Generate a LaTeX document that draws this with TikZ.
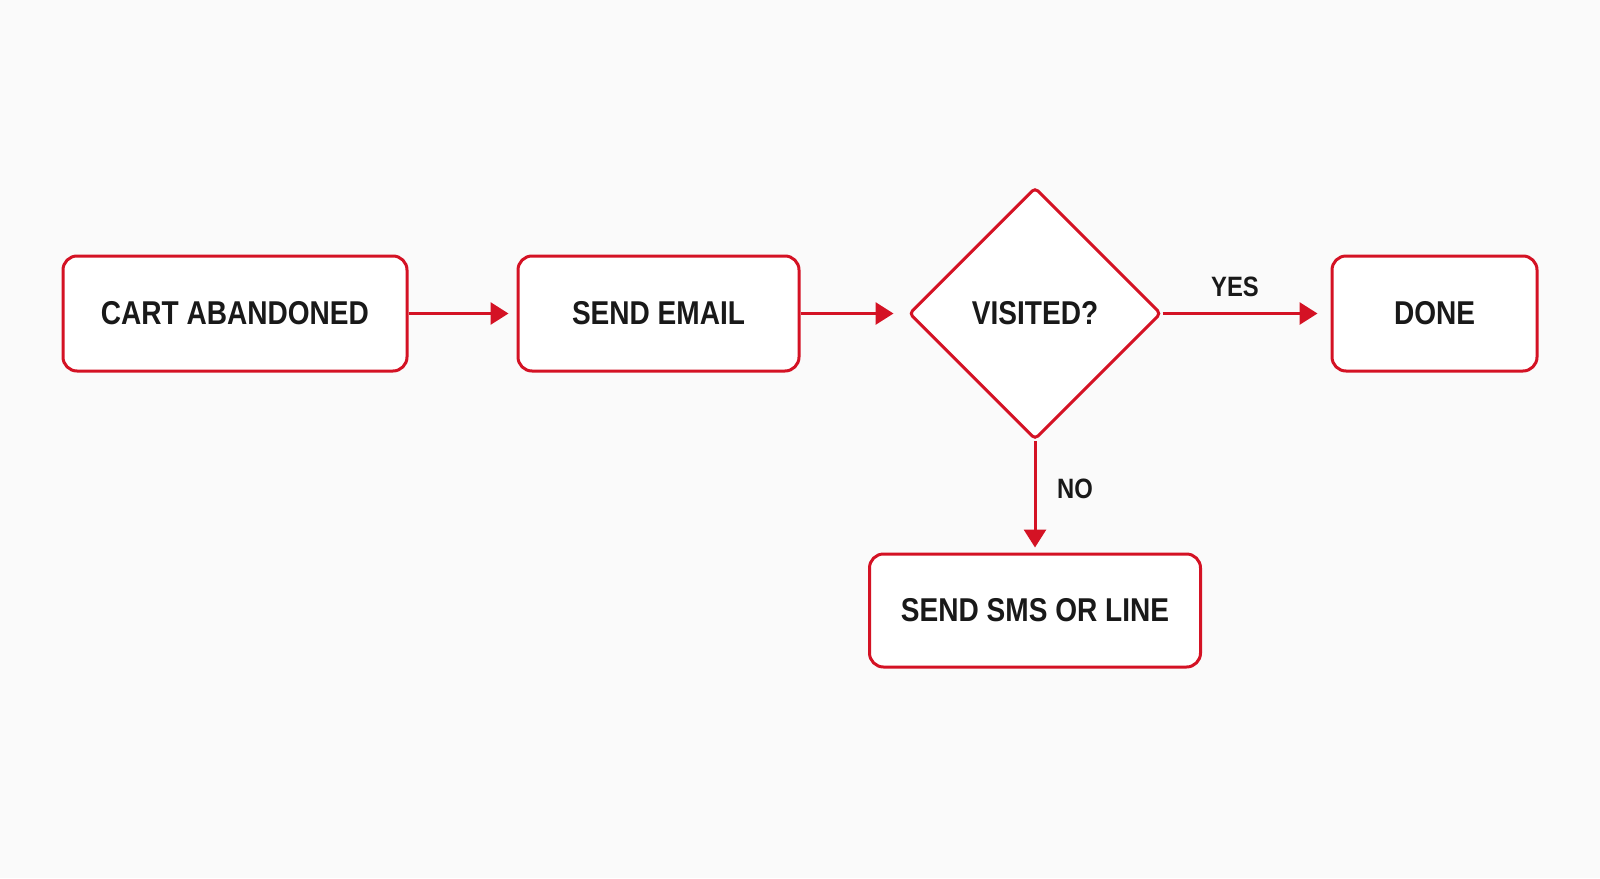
\documentclass[tikz,border=0pt]{standalone}
\usepackage{fontspec}
\setmainfont{Liberation Sans}[FakeStretch=0.85]
\usetikzlibrary{shapes.geometric,arrows.meta}
\definecolor{fred}{RGB}{212,18,36}
\definecolor{bgc}{RGB}{250,250,250}
\tikzset{
  stepbox/.style={draw=fred, line width=1.5pt, rounded corners=7pt, fill=white,
    minimum height=57.5pt, inner sep=0pt, font=\fontsize{16.5}{18}\selectfont\bfseries, text=black!90},
  decbox/.style={draw=fred, line width=1.5pt, diamond, rounded corners=2pt, fill=white,
    minimum width=126pt, minimum height=126pt, inner sep=0pt, font=\fontsize{16.5}{18}\selectfont\bfseries, text=black!90},
  flow/.style={draw=fred, line width=1.5pt, -{Triangle[length=9pt,width=11pt]}, fred},
  lbl/.style={font=\fontsize{14}{16}\selectfont\bfseries, text=black!90, inner sep=0pt}
}
\begin{document}
\begin{tikzpicture}[x=0.5pt,y=-0.5pt]
\fill[bgc] (0,0) rectangle (1600,878);
\useasboundingbox (0,0) rectangle (1600,878);
\node[stepbox, minimum width=172pt] (cart) at (235,313.5) {CART ABANDONED};
\node[stepbox, minimum width=140.5pt] (email) at (658.5,313.5) {SEND EMAIL};
\node[decbox] (vis) at (1035,313.5) {VISITED?};
\node[stepbox, minimum width=102.5pt] (done) at (1434.5,313.5) {DONE};
\node[stepbox, minimum width=165.5pt, minimum height=56.5pt] (sms) at (1035,610.5) {SEND SMS OR LINE};
\draw[flow, shorten >=4pt] (cart.east) -- (email.west);
\draw[flow, shorten >=7pt] (email.east) -- (vis.west);
\draw[flow, shorten >=6.5pt] (vis.east) -- (done.west);
\draw[flow, shorten >=2.5pt] (vis.south) -- (sms.north);
\node[lbl] (yes) at (1235,287) {YES};
\node[lbl] (no) at (1075,489) {NO};
\end{tikzpicture}
\end{document}
